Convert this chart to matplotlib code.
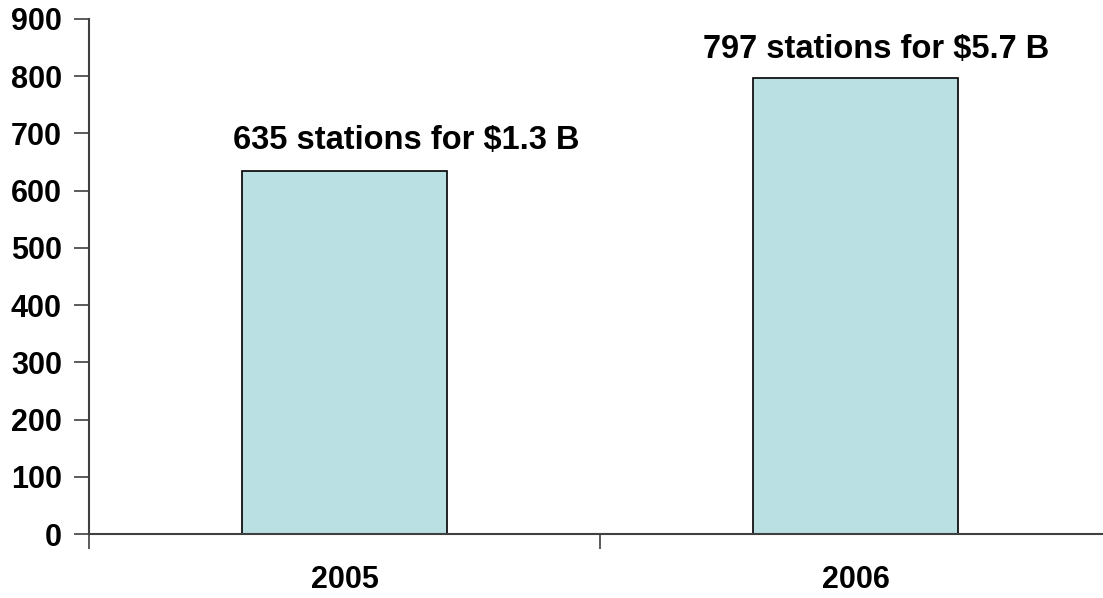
import matplotlib
matplotlib.use("Agg")
import matplotlib.pyplot as plt
from matplotlib.ticker import FixedLocator, NullFormatter

years = ["2005", "2006"]
stations = [635, 797]
labels = ["635 stations for $1.3 B", "797 stations for $5.7 B"]
y_ticks = [0, 100, 200, 300, 400, 500, 600, 700, 800, 900]

plt.rcParams["font.family"] = ["Liberation Sans", "DejaVu Sans"]
plt.rcParams["font.weight"] = "bold"

fig = plt.figure(figsize=(11.03, 5.98), dpi=100)
ax = fig.add_axes([89 / 1103, 64 / 598, 1022 / 1103, 515 / 598])

x = list(range(len(years)))
ax.bar(x, stations, width=0.40, color="#BAE0E3", edgecolor="black", linewidth=1.2, zorder=2)

# value captions above the bars
label_x = [0.12, 0.04]
label_pad = [53, 50]
for xi, v, lab, dx, pad in zip(x, stations, labels, label_x, label_pad):
    ax.text(xi + dx, v + pad, lab, ha="center", va="center", fontsize=23.5, fontweight="bold")

ax.set_xlim(-0.5, 1.5)
ax.set_ylim(0, 900)
ax.set_yticks(y_ticks)
ax.set_yticklabels([str(t) for t in y_ticks], fontsize=22, fontweight="bold")

# category boundaries carry the tick marks, category centres carry the labels
ax.xaxis.set_major_locator(FixedLocator([-0.5, 0.5, 1.5]))
ax.xaxis.set_major_formatter(NullFormatter())
ax.xaxis.set_minor_locator(FixedLocator(x))
ax.set_xticklabels(years, minor=True, fontsize=22, fontweight="bold")
ax.tick_params(axis="x", which="major", length=11, width=1.2, color="#404040", direction="out")
ax.tick_params(axis="x", which="minor", length=0, pad=22)
ax.tick_params(axis="y", length=11, width=1.2, color="#404040", direction="out", pad=8.5)

for side in ("top", "right"):
    ax.spines[side].set_visible(False)
for side in ("left", "bottom"):
    ax.spines[side].set_color("#404040")
    ax.spines[side].set_linewidth(1.5)

fig.savefig("out.png", dpi=100, facecolor="white")
